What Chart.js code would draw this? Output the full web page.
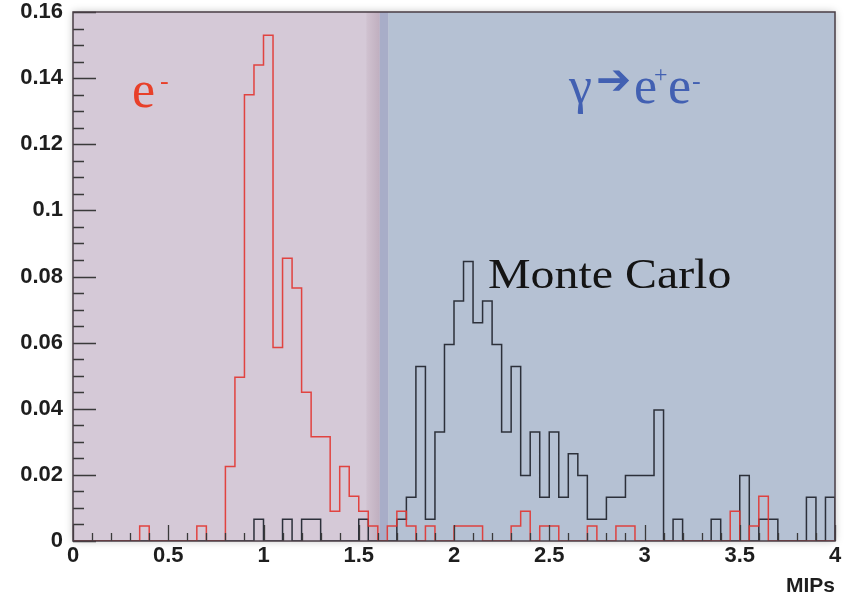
<!DOCTYPE html>
<html lang="en">
<head>
<meta charset="utf-8">
<script src="https://cdn.jsdelivr.net/npm/chart.js@4.4.0/dist/chart.umd.min.js"></script>
<style>
  body { margin: 0; background: #fff; }
</style>
</head>
<body>
<canvas id="mips" width="846" height="595"></canvas>
<script>
// 80 bins of 0.05 MIPs between 0 and 4
var binWidth = 0.05;

// normalised entries per bin, single electrons (red)
var electron = [
    0, 0, 0, 0, 0, 0, 0, 0.0045, 0, 0,
    0, 0, 0, 0.0045, 0, 0, 0.0225, 0.0495, 0.135, 0.144,
    0.153, 0.0585, 0.0855, 0.0765, 0.045, 0.0315, 0.0315, 0.009, 0.0225, 0.0135,
    0.009, 0.0045, 0, 0.0045, 0.009, 0.0045, 0, 0.0045, 0, 0,
    0.0045, 0.0045, 0.0045, 0, 0, 0, 0.0045, 0.009, 0, 0.0045,
    0.0045, 0, 0, 0, 0.0045, 0, 0, 0.0045, 0.0045, 0,
    0, 0, 0, 0, 0, 0, 0, 0, 0, 0.009,
    0, 0.0045, 0.0135, 0, 0, 0, 0, 0, 0, 0
];

// normalised entries per bin, photon conversions (black)
var conversion = [
    0, 0, 0, 0, 0, 0, 0, 0, 0, 0,
    0, 0, 0, 0, 0, 0, 0, 0, 0, 0.0066,
    0, 0, 0.0066, 0, 0.0066, 0.0066, 0, 0, 0, 0,
    0.0066, 0, 0, 0, 0.0066, 0.0132, 0.0528, 0.0066, 0.033, 0.0594,
    0.0726, 0.0845, 0.066, 0.0726, 0.0594, 0.033, 0.0528, 0.0198, 0.033, 0.0132,
    0.033, 0.0132, 0.0264, 0.0198, 0.0066, 0.0066, 0.0132, 0.0132, 0.0198, 0.0198,
    0.0198, 0.0396, 0, 0.0066, 0, 0, 0, 0.0066, 0, 0,
    0.0198, 0, 0.0066, 0.0066, 0, 0, 0, 0.0132, 0, 0.0132
];

// each point sits on a bin's low edge; a closing point drops back to zero
function histPoints(vals) {
    var pts = [];
    for (var i = 0; i < vals.length; i++) {
        pts.push({x: i * binWidth, y: vals[i]});
    }
    pts.push({x: vals.length * binWidth, y: 0});
    return pts;
}

function fmt(v) {
    return String(+v.toFixed(3));
}

var tickFont = {family: '"Liberation Sans", Arial, sans-serif', size: 22, weight: 'bold'};

// shaded regions behind the histograms
var backdrop = {
    id: 'backdrop',
    beforeDatasetsDraw: function (chart) {
        var ctx = chart.ctx, a = chart.chartArea, xs = chart.scales.x;
        var h = a.bottom - a.top;
        var p1 = xs.getPixelForValue(1.54),
            p2 = xs.getPixelForValue(1.61),
            p3 = xs.getPixelForValue(1.655);
        ctx.save();
        ctx.shadowColor = 'rgba(0,0,0,0.25)';
        ctx.shadowBlur = 8;
        ctx.fillStyle = '#d5c9d7';
        ctx.fillRect(a.left, a.top, a.right - a.left, h);
        ctx.restore();

        ctx.save();
        ctx.fillStyle = '#d5c9d7';
        ctx.fillRect(a.left, a.top, p1 - a.left, h);
        var g = ctx.createLinearGradient(p1, 0, p2, 0);
        g.addColorStop(0, '#d0c2d0');
        g.addColorStop(1, '#c0afbf');
        ctx.fillStyle = g;
        ctx.fillRect(p1, a.top, p2 - p1, h);
        ctx.fillStyle = '#a8adc8';
        ctx.fillRect(p2, a.top, p3 - p2, h);
        ctx.fillStyle = '#b5c1d3';
        ctx.fillRect(p3, a.top, a.right - p3, h);
        ctx.restore();
    }
};

// frame, inward ticks and the text labels
var decor = {
    id: 'decor',
    afterDatasetsDraw: function (chart) {
        var ctx = chart.ctx, a = chart.chartArea;
        var xs = chart.scales.x, ys = chart.scales.y;
        var k, px, len;
        ctx.save();
        ctx.strokeStyle = '#3a3a3a';
        ctx.lineWidth = 1.3;
        ctx.beginPath();
        for (k = 0; k <= 40; k++) {
            px = Math.round(xs.getPixelForValue(k * 0.1)) + 0.5;
            len = k % 5 === 0 ? 16 : 8;
            ctx.moveTo(px, a.bottom);
            ctx.lineTo(px, a.bottom - len);
        }
        for (k = 0; k <= 32; k++) {
            px = Math.round(ys.getPixelForValue(k * 0.005)) + 0.5;
            len = k % 4 === 0 ? 23 : 11;
            ctx.moveTo(a.left, px);
            ctx.lineTo(a.left + len, px);
        }
        ctx.stroke();

        ctx.lineWidth = 1.5;
        ctx.strokeStyle = '#4a3e46';
        ctx.strokeRect(a.left, a.top, a.right - a.left, a.bottom - a.top);

        ctx.fillStyle = '#1e1e1e';
        ctx.font = 'bold 21px "Liberation Sans", Arial, sans-serif';
        ctx.textAlign = 'right';
        ctx.textBaseline = 'alphabetic';
        ctx.fillText('MIPs', a.right, 592);

        ctx.textAlign = 'left';
        ctx.fillStyle = '#e8402a';
        ctx.font = '52px "Liberation Serif", serif';
        ctx.fillText('e', 132, 107);
        ctx.font = '26px "Liberation Serif", serif';
        ctx.fillText('-', 160, 89);

        ctx.fillStyle = '#4260b2';
        ctx.font = '52px "Liberation Serif", serif';
        ctx.fillText('\u03b3', 569, 103);
        ctx.font = 'bold 42px "DejaVu Sans", sans-serif';
        ctx.fillText('\u2794', 596, 94);
        ctx.font = '52px "Liberation Serif", serif';
        ctx.fillText('e', 634, 103);
        ctx.font = '24px "Liberation Serif", serif';
        ctx.fillText('+', 654, 82);
        ctx.font = '52px "Liberation Serif", serif';
        ctx.fillText('e', 668, 103);
        ctx.font = '26px "Liberation Serif", serif';
        ctx.fillText('-', 692, 89);

        // "Monte Carlo" set a little wide
        ctx.fillStyle = '#141414';
        ctx.font = '42px "Liberation Serif", serif';
        ctx.translate(488, 288);
        ctx.scale(1.14, 1);
        ctx.fillText('Monte Carlo', 0, 0);
        ctx.restore();
    }
};

new Chart(document.getElementById('mips').getContext('2d'), {
    type: 'line',
    data: {
        datasets: [{
            label: 'e-',
            data: histPoints(electron),
            borderColor: 'rgba(226,52,48,0.9)',
            borderWidth: 1.5,
            stepped: true,
            pointRadius: 0,
            fill: false
        }, {
            label: 'gamma -> e+e-',
            data: histPoints(conversion),
            borderColor: '#2c303a',
            borderWidth: 1.5,
            stepped: true,
            pointRadius: 0,
            fill: false
        }]
    },
    options: {
        responsive: false,
        animation: false,
        devicePixelRatio: 1,
        layout: {padding: {top: 12, right: 11, left: 0, bottom: 0}},
        plugins: {legend: {display: false}, tooltip: {enabled: false}},
        scales: {
            x: {
                type: 'linear',
                min: 0,
                max: 4,
                grid: {display: false, drawTicks: false},
                border: {display: false},
                ticks: {
                    stepSize: 0.5,
                    padding: 2,
                    color: '#1e1e1e',
                    font: tickFont,
                    callback: function (v) { return fmt(v); }
                },
                afterFit: function (s) {
                    s.height = 54;
                    s.paddingLeft = 0;
                    s.paddingRight = 0;
                }
            },
            y: {
                type: 'linear',
                min: 0,
                max: 0.16,
                grid: {display: false, drawTicks: false},
                border: {display: false},
                ticks: {
                    stepSize: 0.02,
                    padding: 10,
                    color: '#1e1e1e',
                    font: tickFont,
                    callback: function (v) { return fmt(v); }
                },
                afterFit: function (s) {
                    s.width = 73;
                    s.paddingTop = 0;
                    s.paddingBottom = 0;
                }
            }
        }
    },
    plugins: [backdrop, decor]
});
</script>
</body>
</html>
